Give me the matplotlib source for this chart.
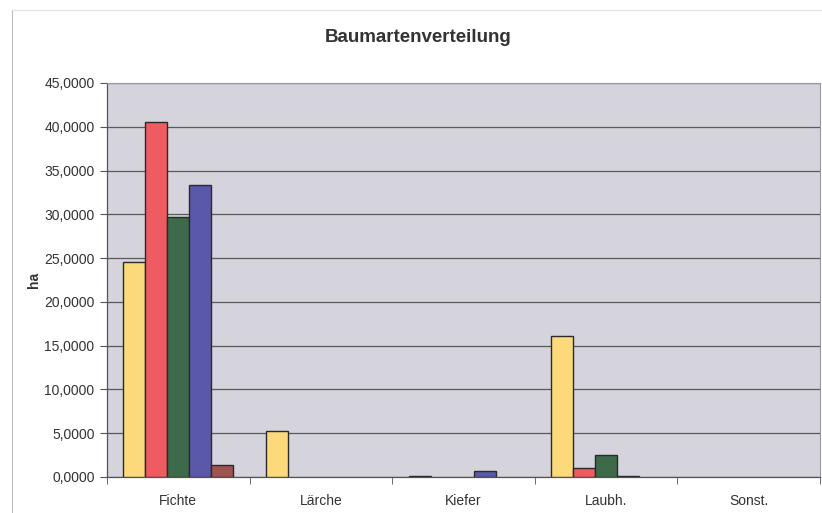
import matplotlib
matplotlib.use("Agg")
import matplotlib.pyplot as plt
import numpy as np
from matplotlib.lines import Line2D

plt.rcParams['font.family'] = ['Liberation Sans', 'DejaVu Sans']

categories = ["Fichte", "Lärche", "Kiefer", "Laubh.", "Sonst."]
series_1 = [24.6, 5.25, 0.1, 16.1, 0.0]
series_2 = [40.5, 0.0, 0.0, 1.0, 0.0]
series_3 = [29.7, 0.0, 0.0, 2.48, 0.0]
series_4 = [33.3, 0.0, 0.65, 0.1, 0.0]
series_5 = [1.4, 0.0, 0.0, 0.0, 0.0]
yticks = [0, 5, 10, 15, 20, 25, 30, 35, 40, 45]

series = [series_1, series_2, series_3, series_4, series_5]
colors = ["#FCD97A", "#EE5B60", "#3D6A4A", "#5A58A8", "#A0544F"]

fig = plt.figure(figsize=(8.22, 5.13), dpi=100)
ax = fig.add_axes([107/822, 36/513, (820-107)/822, (477-83)/513])
ax.set_facecolor("#D5D3DB")

n = len(series)
bw = 1.0 / (n + 1.5)
x = np.arange(len(categories))
for i, (vals, c) in enumerate(zip(series, colors)):
    offs = (i - (n - 1) / 2) * bw
    bars = ax.bar(x + offs, vals, width=bw, color=c, edgecolor="#2a2a2a", linewidth=1.0, zorder=3)
    for b, v in zip(bars, vals):
        if v == 0:
            b.set_visible(False)

ax.set_xlim(-0.5, len(categories) - 0.5)
ax.set_ylim(0, 45)
ax.set_yticks(yticks)
ax.set_yticklabels([f"{v:.4f}".replace(".", ",") for v in yticks], fontsize=10, color="#333333")
ax.yaxis.grid(True, color="#5a5a5a", linewidth=0.9, zorder=1)
ax.set_axisbelow(True)

ax.set_xticks(x)
ax.set_xticklabels(categories, fontsize=10, color="#333333")
ax.tick_params(axis="x", length=0, pad=12)
ax.set_xticks(np.arange(len(categories) + 1) - 0.5, minor=True)
ax.tick_params(axis="x", which="minor", length=5, color="#555555")
ax.tick_params(axis="y", length=5, color="#555555", pad=4)

for s in ["top", "right"]:
    ax.spines[s].set_color("#999999")
    ax.spines[s].set_linewidth(0.8)
for s in ["left", "bottom"]:
    ax.spines[s].set_color("#555555")
    ax.spines[s].set_linewidth(0.9)

ax.set_ylabel("ha", fontsize=10, fontweight="bold", color="#333333")
ax.yaxis.set_label_coords(-0.093, 0.5)

fig.text(418/822, 1 - 38/513, "Baumartenverteilung", ha="center", va="center",
         fontsize=13.5, fontweight="bold", color="#333333")

# chart-area frame lines (left and top)
fig.add_artist(Line2D([12/822, 12/822], [0, 1 - 10/513], transform=fig.transFigure,
                      color="#BBBBBB", linewidth=0.8))
fig.add_artist(Line2D([12/822, 1], [1 - 10/513, 1 - 10/513], transform=fig.transFigure,
                      color="#E2E2E2", linewidth=0.8))

fig.savefig("out.png", dpi=100)
